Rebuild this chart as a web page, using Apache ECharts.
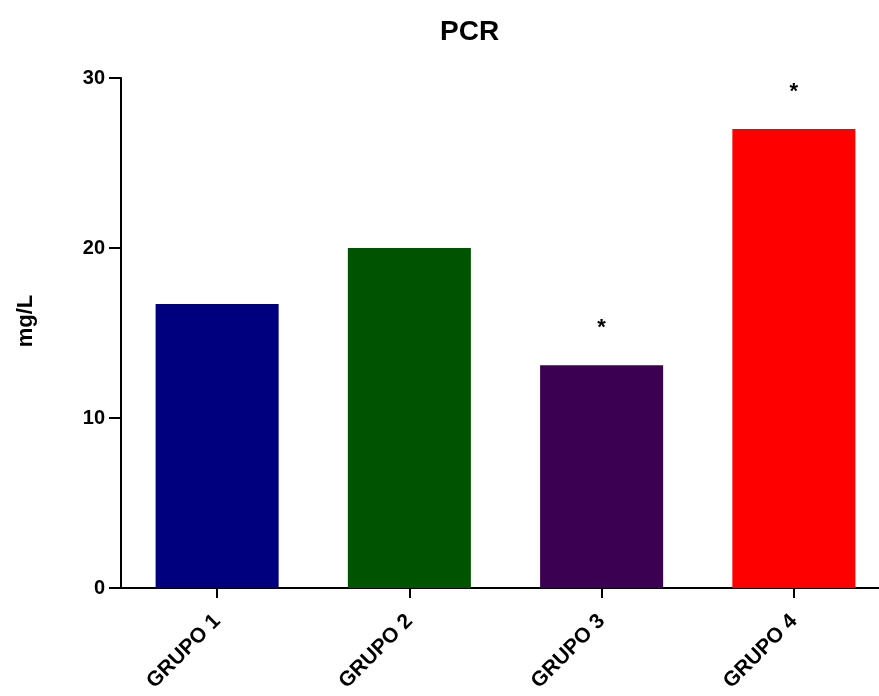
<!DOCTYPE html>
<html>
<head>
<meta charset="utf-8">
<script src="https://cdn.jsdelivr.net/npm/echarts@6/dist/echarts.min.js"></script>
<style>html,body{margin:0;padding:0;background:#fff;overflow:hidden}#c{width:890px;height:696px}</style>
</head>
<body>
<div id="c"></div>
<script>
var categories = ['GRUPO 1', 'GRUPO 2', 'GRUPO 3', 'GRUPO 4'];
var values = [16.7, 20.0, 13.1, 27.0];
var significance = ['', '', '*', '*'];
var yTicks = [0, 10, 20, 30];

var barColors = ['#00007f', '#005300', '#3c0052', '#ff0000'];
var chart = echarts.init(document.getElementById('c'));
var font = 'Liberation Sans, Arial, sans-serif';
chart.setOption({
  animation: false,
  backgroundColor: '#ffffff',
  title: {
    text: 'PCR', left: 435, top: 13,
    textStyle: {fontFamily: font, fontWeight: 'bold', fontSize: 28, color: '#000'}
  },
  grid: {left: 121, right: 0, top: 78, bottom: 108, containLabel: false},
  xAxis: {
    type: 'category',
    data: categories,
    axisLine: {lineStyle: {color: '#000', width: 2}},
    axisTick: {show: true, alignWithLabel: true, length: 10, lineStyle: {color: '#000', width: 2}},
    axisLabel: {rotate: 45, fontFamily: font, fontWeight: 'bold', fontSize: 21, color: '#000', margin: 30}
  },
  yAxis: {
    type: 'value',
    min: yTicks[0], max: yTicks[yTicks.length - 1], interval: 10,
    name: 'mg/L', nameLocation: 'middle', nameGap: 84, nameRotate: 90,
    nameTextStyle: {fontFamily: font, fontWeight: 'bold', fontSize: 22, color: '#000', padding: [0, 0, 0, 24]},
    axisLine: {show: true, lineStyle: {color: '#000', width: 2}},
    axisTick: {show: true, length: 12, lineStyle: {color: '#000', width: 2}},
    axisLabel: {fontFamily: font, fontWeight: 'bold', fontSize: 20, color: '#000', margin: 16},
    splitLine: {show: false}
  },
  series: [{
    type: 'bar',
    barWidth: '64%',
    data: values.map(function (v, i) {
      return {value: v, itemStyle: {color: barColors[i]}};
    }),
    label: {
      show: true, position: 'top', distance: 26,
      formatter: function (p) { return significance[p.dataIndex]; },
      fontFamily: font, fontWeight: 'bold', fontSize: 22, color: '#000'
    }
  }]
});
</script>
</body>
</html>
